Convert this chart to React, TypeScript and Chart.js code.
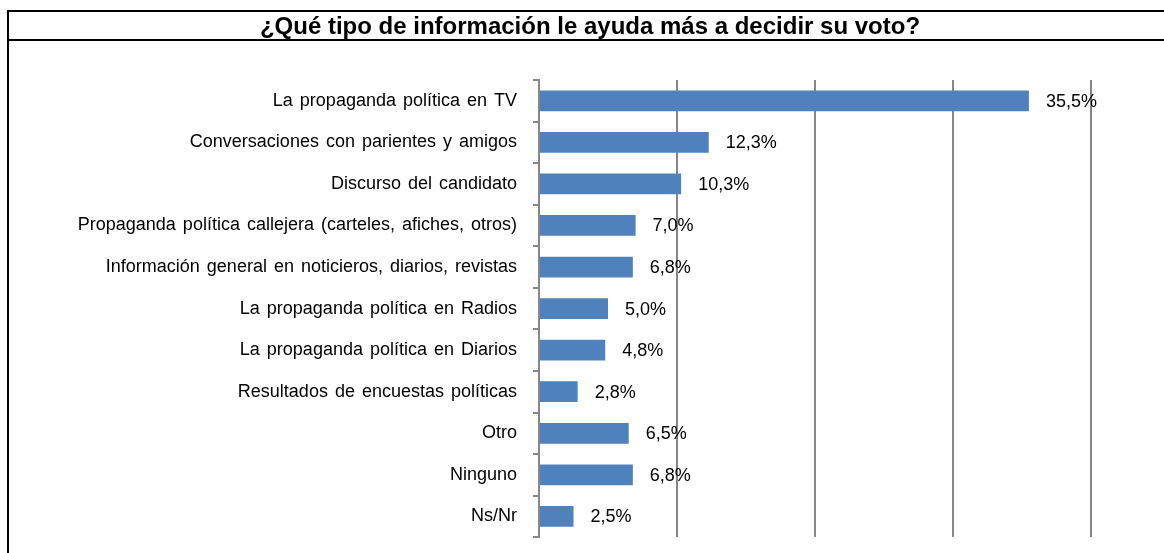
import React, { useEffect, useRef } from "react";
import { Chart, registerables } from "chart.js";

Chart.register(...registerables);

const TITLE = "¿Qué tipo de información le ayuda más a decidir su voto?";

const categories: string[] = [
  "La propaganda política en TV",
  "Conversaciones con parientes y amigos",
  "Discurso del candidato",
  "Propaganda política callejera (carteles, afiches, otros)",
  "Información general en noticieros, diarios, revistas",
  "La propaganda política en Radios",
  "La propaganda política en Diarios",
  "Resultados de encuestas políticas",
  "Otro",
  "Ninguno",
  "Ns/Nr",
];

const values: number[] = [35.5, 12.3, 10.3, 7.0, 6.8, 5.0, 4.8, 2.8, 6.5, 6.8, 2.5];

const xMin = 0;
const xMax = 40;
const xStep = 10;

const FONT = "'Liberation Sans', Arial, sans-serif";

const fmt = (v: number) => v.toFixed(1).replace(".", ",") + "%";

const spacing = {
  id: "spacing",
  beforeDraw(chart: any) {
    try {
      chart.ctx.wordSpacing = "2px";
    } catch (e) {}
  },
};

const valueLabels = {
  id: "valueLabels",
  afterDatasetsDraw(chart: any) {
    const ctx = chart.ctx;
    const meta = chart.getDatasetMeta(0);
    ctx.save();
    ctx.font = `18px ${FONT}`;
    ctx.fillStyle = "#000";
    ctx.textAlign = "left";
    ctx.textBaseline = "middle";
    meta.data.forEach((bar: any, i: number) => {
      ctx.fillText(fmt(values[i]), bar.x + 17, bar.y + 1);
    });
    ctx.restore();
  },
};

export default function App() {
  const ref = useRef<HTMLCanvasElement | null>(null);

  useEffect(() => {
    document.body.style.margin = "0";
    if (!ref.current) return;
    const chart = new Chart(ref.current, {
      type: "bar",
      data: {
        labels: categories,
        datasets: [
          {
            data: values,
            backgroundColor: "#4F81BD",
            borderWidth: 0,
            barPercentage: 0.5,
            categoryPercentage: 1,
          },
        ],
      },
      options: {
        indexAxis: "y",
        animation: false,
        responsive: false,
        maintainAspectRatio: false,
        layout: { padding: { left: 0, right: 73, top: 80, bottom: 2 } },
        plugins: {
          legend: { display: false },
          tooltip: { enabled: false },
          title: { display: false },
        },
        scales: {
          x: {
            min: xMin,
            max: xMax,
            ticks: { display: false, stepSize: xStep },
            grid: { color: "#878787", lineWidth: 2, drawTicks: false },
            border: { display: false },
            afterFit: (s: any) => {
              s.height = 0;
            },
          },
          y: {
            ticks: {
              color: "#000",
              font: { family: FONT, size: 18 },
              padding: 16,
            },
            grid: {
              drawOnChartArea: false,
              color: "#878787",
              lineWidth: 2,
              tickLength: 6,
              offset: true,
            },
            border: { display: true, color: "#878787", width: 2 },
            afterFit: (s: any) => {
              s.width = 539;
            },
          },
        },
      },
      plugins: [spacing, valueLabels],
    });
    return () => chart.destroy();
  }, []);

  return (
    <div style={{ position: "relative", width: 1164, height: 553, overflow: "hidden", background: "#fff" }}>
      <canvas ref={ref} width={1164} height={564} style={{ position: "absolute", left: 0, top: 0 }} />
      <div
        style={{
          position: "absolute",
          left: 7,
          top: 10,
          width: 1175,
          height: 600,
          borderLeft: "2px solid #000",
          borderTop: "2px solid #000",
          boxSizing: "border-box",
        }}
      />
      <div
        style={{
          position: "absolute",
          left: 7,
          top: 12,
          width: 1166,
          height: 29,
          borderBottom: "2px solid #000",
          boxSizing: "border-box",
          textAlign: "center",
          fontFamily: FONT,
          fontWeight: "bold",
          fontSize: 24,
          lineHeight: "28px",
          color: "#000",
          whiteSpace: "nowrap",
        }}
      >
        {TITLE}
      </div>
    </div>
  );
}
